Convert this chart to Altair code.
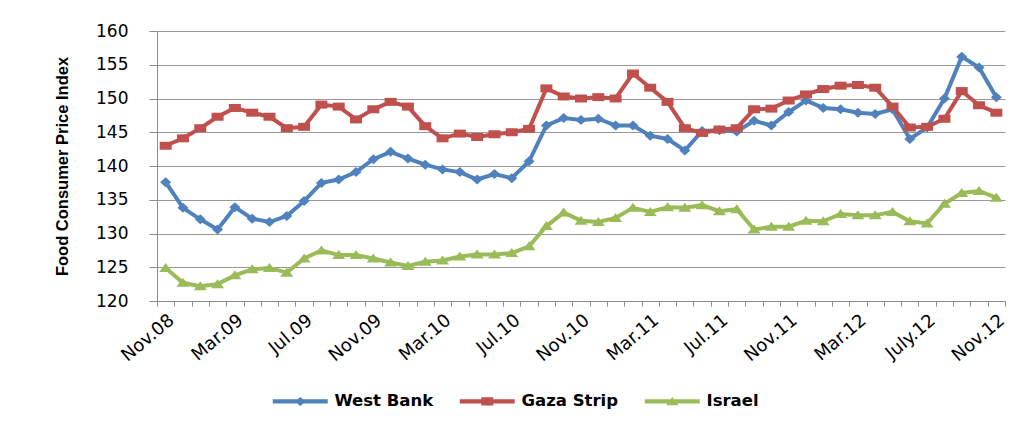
import altair as alt
import pandas as pd

month_names = ["Jan", "Feb", "Mar", "Apr", "May", "Jun", "Jul", "Aug", "Sep", "Oct", "Nov", "Dec"]
months = []
for y in range(2008, 2013):
    for m in month_names:
        months.append(f"{m}.{str(y)[2:]}")
months = months[10:10 + 49]
months = ["July.12" if m == "Jul.12" else m for m in months]

tick_labels = ["Nov.08", "Mar.09", "Jul.09", "Nov.09", "Mar.10", "Jul.10", "Nov.10",
               "Mar.11", "Jul.11", "Nov.11", "Mar.12", "July.12", "Nov.12"]

west_bank = [137.6, 133.8, 132.1, 130.6, 133.9, 132.2, 131.7, 132.6, 134.8, 137.5,
             138.0, 139.1, 141.0, 142.1, 141.1, 140.2, 139.5, 139.1, 138.0, 138.8,
             138.2, 140.7, 146.0, 147.1, 146.8, 147.0, 146.0, 146.0, 144.5, 144.0,
             142.3, 145.2, 145.3, 145.1, 146.7, 146.0, 148.0, 149.7, 148.6, 148.4,
             147.9, 147.7, 148.4, 144.0, 145.7, 150.0, 156.2, 154.6, 150.2]
gaza_strip = [143.0, 144.1, 145.6, 147.3, 148.6, 147.9, 147.3, 145.6, 145.8, 149.1,
              148.8, 146.9, 148.4, 149.5, 148.8, 145.9, 144.1, 144.8, 144.3, 144.7,
              145.0, 145.5, 151.5, 150.3, 150.0, 150.2, 150.0, 153.7, 151.6, 149.5,
              145.6, 144.9, 145.4, 145.6, 148.4, 148.5, 149.7, 150.6, 151.4, 151.9,
              152.0, 151.6, 148.8, 145.7, 145.8, 147.0, 151.1, 149.0, 147.9]
israel = [124.9, 122.7, 122.2, 122.5, 123.8, 124.7, 124.9, 124.2, 126.3, 127.5,
          126.8, 126.8, 126.3, 125.7, 125.2, 125.8, 126.0, 126.6, 126.9, 126.9,
          127.1, 128.1, 131.1, 133.1, 131.9, 131.7, 132.3, 133.8, 133.2, 133.9,
          133.8, 134.2, 133.3, 133.6, 130.6, 131.0, 131.0, 131.9, 131.8, 132.9,
          132.7, 132.7, 133.2, 131.8, 131.5, 134.4, 136.0, 136.3, 135.3]

series_names = ["West Bank", "Gaza Strip", "Israel"]
colors = ["#4F81BD", "#C0504D", "#9BBB59"]

# marker outlines (wide, like the stretched original)
plot_shapes = [
    "M0,-1L1.1,0L0,1L-1.1,0Z",
    "M-1.2,-0.8L1.2,-0.8L1.2,0.8L-1.2,0.8Z",
    "M0,-1L1.3,0.8L-1.3,0.8Z",
]
# legend symbols: a line with the marker in its middle
legend_shapes = [
    "M-1,-0.27L6.33,-0.27L6.33,0.27L-1,0.27Z M2.67,-0.6L3.4,0L2.67,0.6L1.94,0Z",
    "M-1,-0.27L6.33,-0.27L6.33,0.27L-1,0.27Z M1.87,-0.55L3.47,-0.55L3.47,0.55L1.87,0.55Z",
    "M-1,-0.27L6.33,-0.27L6.33,0.27L-1,0.27Z M2.67,-0.6L3.5,0.5L1.84,0.5Z",
]

rows = []
for name, vals in zip(series_names, [west_bank, gaza_strip, israel]):
    for mo, v in zip(months, vals):
        rows.append({"month": mo, "series": name, "value": v})
df = pd.DataFrame(rows)

label_list = "[" + ",".join(f"'{t}'" for t in tick_labels) + "]"
FONT = "DejaVu Sans"

x_enc = alt.X(
    "month:O",
    sort=months,
    scale=alt.Scale(type="band", paddingInner=0, paddingOuter=0),
    axis=alt.Axis(
        title=None,
        labelAngle=-40,
        labelExpr=f"indexof({label_list}, datum.value) >= 0 ? datum.value : ''",
        labelOverlap=False,
        tickBand="extent",
        tickSize=5,
        tickColor="#8C8C8C",
        domainColor="#8C8C8C",
        labelFontSize=18,
        labelColor="#000000",
        labelPadding=5,
        labelFont=FONT,
    ),
)
y_enc = alt.Y(
    "value:Q",
    scale=alt.Scale(domain=[120, 160], nice=False, zero=False),
    axis=alt.Axis(
        title="Food Consumer Price Index",
        values=[120, 125, 130, 135, 140, 145, 150, 155, 160],
        grid=True,
        gridColor="#999999",
        tickSize=8,
        tickColor="#8C8C8C",
        domainColor="#8C8C8C",
        labelFontSize=17,
        labelColor="#000000",
        labelPadding=21,
        labelFont=FONT,
        titleFont="Liberation Sans",
        titleFontSize=16.5,
        titleFontWeight="bold",
        titleColor="#000000",
        titlePadding=25,
    ),
)

legend_props = dict(
    title=None,
    orient="none",
    legendX=115,
    legendY=362,
    direction="horizontal",
    symbolSize=225,
    symbolStrokeWidth=0,
    symbolOpacity=1,
    labelFontSize=16.5,
    labelFontWeight="bold",
    labelColor="#000000",
    labelFont=FONT,
    columnPadding=25,
    labelOffset=46,
)
color_enc = alt.Color("series:N", scale=alt.Scale(domain=series_names, range=colors),
                      legend=alt.Legend(**legend_props))

base = alt.Chart(df)

lines = base.mark_line(strokeWidth=4).encode(x=x_enc, y=y_enc, color=color_enc)

point_layers = []
for name, shp in zip(series_names, plot_shapes):
    point_layers.append(
        base.transform_filter(alt.datum.series == name)
        .mark_point(filled=True, opacity=1, strokeWidth=0, shape=shp, size=100)
        .encode(x=x_enc, y=y_enc, color=color_enc)
    )

legend_layer = base.transform_filter("datum.value < 0").mark_point(filled=True).encode(
    x=x_enc,
    y=y_enc,
    color=color_enc,
    shape=alt.Shape("series:N", scale=alt.Scale(domain=series_names, range=legend_shapes),
                    legend=alt.Legend(**legend_props)),
)

chart = alt.layer(lines, *point_layers, legend_layer).properties(
    width=848,
    height=270,
    padding={"left": 149, "top": 23, "right": 10, "bottom": 120},
    autosize=alt.AutoSizeParams(type="none"),
).configure_view(stroke=None)

chart.save("out.html", embed_options={"renderer": "svg", "actions": False})
